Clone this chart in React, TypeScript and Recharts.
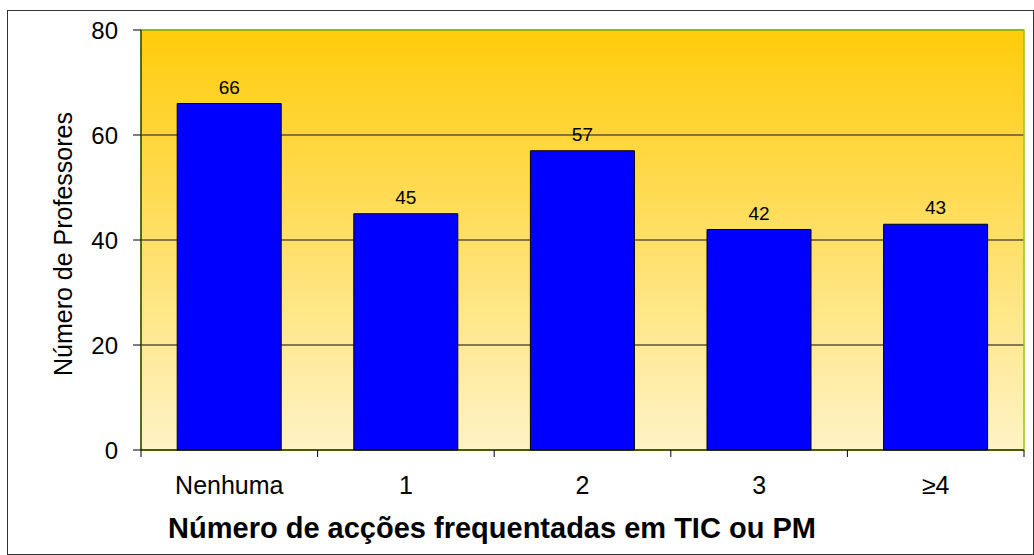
import React from 'react';
import {
  BarChart,
  Bar,
  XAxis,
  YAxis,
  CartesianGrid,
  ReferenceArea,
  LabelList,
} from 'recharts';

const categories = ['Nenhuma', '1', '2', '3', '≥4'];
const professores = [66, 45, 57, 42, 43];
const yTicks = [0, 20, 40, 60, 80];

const data = categories.map((name, i) => ({ name, value: professores[i] }));

const W = 1034;
const H = 555;
const LEFT = 141;
const RIGHT = 10;
const TOP = 30;
const XAXIS_H = 105;
const PLOT_H = H - TOP - XAXIS_H;
const BAND = (W - LEFT - RIGHT) / categories.length;

const FONT = '"Liberation Sans", Arial, sans-serif';

// category label plus tick marks on the band edges, like the original
const XTick = (props: any) => {
  const { x, y, payload, index } = props;
  const left = x - BAND / 2;
  const isLast = index === categories.length - 1;
  return (
    <g>
      <line x1={left} y1={y - 8} x2={left} y2={y - 1} stroke="#000" />
      {isLast && <line x1={left + BAND} y1={y - 8} x2={left + BAND} y2={y - 1} stroke="#000" />}
      <text x={x} y={y + 36} textAnchor="middle" fontSize={25} fill="#000" fontFamily={FONT}>
        {payload.value}
      </text>
    </g>
  );
};

const App: React.FC = () => {
  return (
    <div style={{ position: 'absolute', left: 0, top: 0, width: W, height: H, background: '#fff' }}>
      <div
        style={{
          position: 'absolute',
          left: 7,
          top: 10,
          width: W - 7,
          height: H - 10,
          border: '1px solid #333',
          boxSizing: 'border-box',
        }}
      />
      <BarChart
        width={W}
        height={H}
        data={data}
        margin={{ top: TOP, right: RIGHT, bottom: 0, left: 0 }}
        barCategoryGap="20.5%"
        style={{ position: 'absolute', left: 0, top: 0, fontFamily: FONT }}
      >
        <defs>
          <linearGradient id="bg" x1="0" y1="0" x2="0" y2="1">
            <stop offset="0%" stopColor="#FFCC0A" />
            <stop offset="100%" stopColor="#FFF3C6" />
          </linearGradient>
        </defs>
        <CartesianGrid
          vertical={false}
          stroke="#5c5434"
          strokeWidth={1.5}
          fill="url(#bg)"
          fillOpacity={1}
        />
        <ReferenceArea y1={0} y2={80} fill="none" stroke="#99CC00" strokeWidth={1.5} ifOverflow="visible" />
        <XAxis
          dataKey="name"
          height={XAXIS_H}
          tickLine={false}
          axisLine={{ stroke: '#000' }}
          tick={<XTick />}
          interval={0}
          label={(p: any) => {
            const vb = p.viewBox;
            return (
              <text
                x={492}
                y={vb.y + 88}
                textAnchor="middle"
                fontSize={29}
                fontWeight="bold"
                fill="#000"
                fontFamily={FONT}
              >
                Número de acções frequentadas em TIC ou PM
              </text>
            );
          }}
        />
        <YAxis
          width={LEFT}
          domain={[0, 80]}
          ticks={yTicks}
          tickSize={8}
          tickMargin={15}
          tickLine={{ stroke: '#000' }}
          axisLine={{ stroke: '#000' }}
          tick={{ fill: '#000', fontSize: 24, fontFamily: FONT }}
          label={() => {
            const cx = 63;
            const cy = TOP + PLOT_H / 2 + 4;
            return (
              <text
                x={cx}
                y={cy}
                transform={`rotate(-90 ${cx} ${cy})`}
                textAnchor="middle"
                dominantBaseline="central"
                fontSize={25}
                fill="#000"
                fontFamily={FONT}
              >
                Número de Professores
              </text>
            );
          }}
        />
        <Bar dataKey="value" fill="#0000FF" stroke="#000" strokeWidth={1} isAnimationActive={false}>
          <LabelList dataKey="value" position="top" offset={10} fill="#000" fontSize={19} fontFamily={FONT} />
        </Bar>
      </BarChart>
    </div>
  );
};

export default App;
